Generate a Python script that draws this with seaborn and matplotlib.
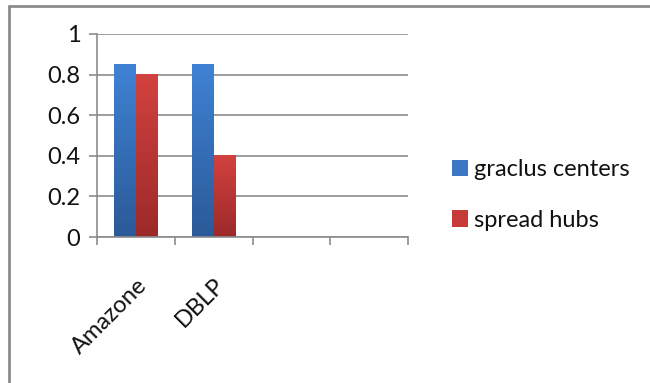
import numpy as np
import pandas as pd
import matplotlib
matplotlib.use("Agg")
import matplotlib.pyplot as plt
import seaborn as sns
from matplotlib.lines import Line2D
from matplotlib.patches import Patch
from matplotlib.colors import LinearSegmentedColormap

# --- data ---
datasets = ["Amazone", "DBLP"]
methods = ["graclus centers", "spread hubs"]
graclus_vals = [0.85, 0.85]
spread_vals = [0.80, 0.40]
y_ticks = [0, 0.2, 0.4, 0.6, 0.8, 1]
n_slots = 4  # the chart reserves four category slots, two are empty

df = pd.DataFrame({
    "dataset": datasets * 2,
    "method": [methods[0]] * 2 + [methods[1]] * 2,
    "value": graclus_vals + spread_vals,
})

sns.set_style("white")
plt.rcParams["font.family"] = ["Lato", "DejaVu Sans"]

W, H = 650, 383
fig = plt.figure(figsize=(6.5, 3.83), dpi=100)
ax = fig.add_axes([97 / W, 1 - 237 / H, (408 - 97) / W, (237 - 34) / H])

palette = {"graclus centers": "#3a78c6", "spread hubs": "#c63b38"}
grads = {
    "graclus centers": ("#3f82d4", "#2b5a98"),
    "spread hubs": ("#d24240", "#9c2a29"),
}

sns.barplot(data=df, x="dataset", y="value", hue="method", order=datasets,
            hue_order=methods, palette=palette, width=0.55, legend=False,
            saturation=1, ax=ax)

# vertical gradient fill on every bar (light at top, dark at bottom)
bar_colors = [methods[0]] * len(datasets) + [methods[1]] * len(datasets)
for patch, m in zip(list(ax.patches), bar_colors):
    x0, y0 = patch.get_x(), patch.get_y()
    w, h = patch.get_width(), patch.get_height()
    cmap = LinearSegmentedColormap.from_list(m, [grads[m][1], grads[m][0]])
    img = ax.imshow(np.linspace(0, 1, 100).reshape(-1, 1), cmap=cmap,
                    extent=[x0, x0 + w, y0, y0 + h], origin="lower",
                    aspect="auto", zorder=patch.get_zorder(), clip_path=patch)
    patch.set_edgecolor("none")

ax.set_xlim(-0.5, n_slots - 0.5)
ax.set_ylim(0, 1)
ax.set_aspect("auto")

grid_c = "#8c8c8c"
ax.set_yticks(y_ticks)
ax.set_yticklabels(["0", "0.2", "0.4", "0.6", "0.8", "1"], fontsize=17,
                   color="#111111")
ax.yaxis.grid(True, color=grid_c, linewidth=1.2)
ax.set_axisbelow(True)
ax.tick_params(axis="y", length=6, width=1.2, color=grid_c, left=True, pad=6)

ax.set_xticks(range(len(datasets)))
ax.set_xticklabels(datasets, rotation=45, ha="right", rotation_mode="anchor",
                   fontsize=17, color="#111111")
ax.set_xticks(np.arange(-0.5, n_slots, 1), minor=True)
ax.tick_params(axis="x", which="major", length=0, pad=27)
ax.tick_params(axis="x", which="minor", length=6, width=1.2, color=grid_c,
               bottom=True)

for side in ["top", "right"]:
    ax.spines[side].set_visible(False)
for side in ["left", "bottom"]:
    ax.spines[side].set_color(grid_c)
    ax.spines[side].set_linewidth(1.2)
ax.set_xlabel("")
ax.set_ylabel("")

handles = [Patch(facecolor=palette[m], edgecolor="none") for m in methods]
leg = fig.legend(handles, methods, loc="center left",
                 bbox_to_anchor=(431 / W, 1 - 195 / H), frameon=False,
                 fontsize=17, handlelength=0.68, handleheight=0.68,
                 handletextpad=0.22, labelspacing=1.25)
for t in leg.get_texts():
    t.set_color("#111111")

# outer frame (only left and top edges visible in the reference)
fig.add_artist(Line2D([8.5 / W, 8.5 / W], [0, 1 - 5.5 / H], color="#8c8c8c",
                      linewidth=2, transform=fig.transFigure))
fig.add_artist(Line2D([8.5 / W, 1], [1 - 5.5 / H, 1 - 5.5 / H],
                      color="#8c8c8c", linewidth=2, transform=fig.transFigure))

fig.savefig("out.png", dpi=100)
